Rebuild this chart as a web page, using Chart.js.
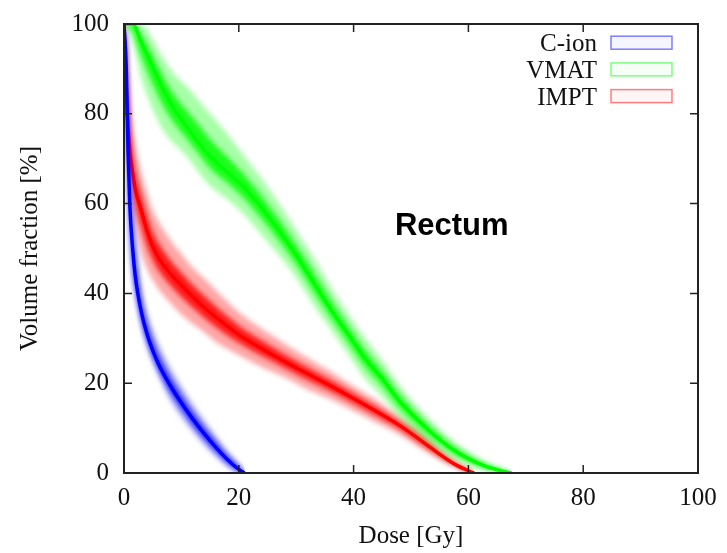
<!DOCTYPE html>
<html>
<head>
<meta charset="utf-8">
<script src="https://cdn.jsdelivr.net/npm/chart.js@4.4.0/dist/chart.umd.min.js"></script>
<style>
  body { margin: 0; background: #fff; }
</style>
</head>
<body>
<canvas id="dvh" width="727" height="553"></canvas>
<script>
var seriesNames = ['C-ion', 'VMAT', 'IMPT'];
var seriesColors = ['0,0,255', '0,255,0', '255,0,0'];
var axisTicks = [0, 20, 40, 60, 80, 100];

// C-ion (blue)
var cionDose    = [0, 0.4, 0.7, 1, 1.5, 2, 3, 4, 5, 6, 8, 10, 12, 14, 16, 18, 20, 21];
var cionMid     = [100, 90, 72, 60, 50, 43.5, 36, 31, 27.3, 24.3, 19.6, 15.6, 12, 8.7, 5.7, 3, 0.8, 0];
var cionInnerHi = [100, 92.8, 79.2, 67.2, 54.4, 47.5, 38.4, 33, 29.2, 26.1, 21.2, 17.1, 13.3, 9.9, 6.8, 3.8, 1.4, 0.2];
var cionInnerLo = [97.6, 85.2, 68, 56.8, 47.4, 41.7, 34.6, 29.8, 26.2, 23.2, 18.3, 14.4, 10.8, 7.7, 4.9, 2.4, 0.5, 0];
var cionOuterHi = [100, 97, 90, 78, 61, 53, 42, 36, 32, 28.8, 23.6, 19.3, 15.3, 11.7, 8.3, 5, 2.2, 0.5];
var cionOuterLo = [94, 78, 62, 52, 43.5, 39, 32.5, 28, 24.5, 21.6, 16.3, 12.5, 9.2, 6.2, 3.6, 1.4, 0, 0];

// VMAT (green)
var vmatDose    = [0, 1.5, 3, 5, 7, 9, 11, 13, 15, 18, 21, 24, 27, 30, 33, 36, 39, 42, 45, 48, 51, 54, 57, 60, 63, 66, 67.5];
var vmatMid     = [100, 100, 96, 90.5, 85, 80.5, 77, 73.5, 70.5, 67, 63.5, 59, 54, 48.5, 42.5, 36.5, 31, 25.5, 21, 16, 12, 8.5, 5.5, 3.2, 1.5, 0.4, 0];
var vmatInnerHi = [100, 100, 97.6, 92.9, 87.8, 83.7, 80.6, 77.5, 74.3, 70.4, 66.3, 61.6, 56.4, 50.7, 44.7, 38.5, 32.8, 27.3, 22.6, 17.4, 13.2, 9.5, 6.3, 3.8, 1.9, 0.6, 0.1];
var vmatInnerLo = [100, 98.4, 92.8, 86.7, 81.4, 77.5, 74.4, 71.1, 67.9, 64.6, 61.1, 56.6, 51.8, 46.5, 40.5, 34.7, 29.2, 23.7, 19.4, 14.6, 10.8, 7.5, 4.7, 2.6, 1.1, 0.2, 0];
var vmatOuterHi = [100, 100, 100, 96.5, 92, 88.5, 86, 83, 80, 75.5, 70.5, 65.5, 60, 54, 48, 41.5, 35.5, 30, 25, 19.5, 15, 11, 7.5, 4.8, 2.6, 1, 0.3];
var vmatOuterLo = [100, 96, 88, 81, 76, 73, 70.5, 67, 64, 61, 57.5, 53, 48.5, 43.5, 37.5, 32, 26.5, 21, 17, 12.5, 9, 6, 3.5, 1.8, 0.5, 0, 0];

// IMPT (red)
var imptDose    = [0, 0.2, 0.5, 1, 1.5, 2, 3, 4, 5, 6, 8, 10, 12, 14, 16, 18, 20, 24, 28, 32, 36, 40, 44, 48, 52, 56, 58, 60, 61];
var imptMid     = [100, 92, 82, 72, 67, 63, 58.5, 54, 50.5, 48, 44.5, 41.8, 39.2, 36.8, 34.7, 32.7, 30.8, 27.7, 24.8, 22.1, 19.4, 16.6, 13.7, 10.6, 7, 3.3, 1.7, 0.5, 0];
var imptInnerHi = [100, 95.2, 87.6, 77.6, 71.4, 67, 61.9, 57.4, 53.7, 51.2, 47.5, 44.6, 41.8, 39.4, 37.1, 34.9, 32.8, 29.5, 26.4, 23.5, 20.7, 17.7, 14.7, 11.4, 7.7, 3.7, 2, 0.7, 0.1];
var imptInnerLo = [98.4, 89.6, 79.6, 69.6, 63.8, 59.8, 54.7, 50.6, 47.5, 45.2, 41.9, 39.2, 36.8, 34.6, 32.5, 30.7, 29, 26.1, 23.4, 20.7, 18.2, 15.5, 12.7, 9.8, 6.3, 2.9, 1.5, 0.3, 0];
var imptOuterHi = [100, 100, 96, 86, 78, 73, 67, 62.5, 58.5, 56, 52, 48.8, 45.7, 43.3, 40.7, 38.2, 35.8, 32.1, 28.8, 25.6, 22.6, 19.3, 16.2, 12.6, 8.8, 4.3, 2.5, 1, 0.3];
var imptOuterLo = [96, 86, 76, 66, 59, 55, 49, 45.5, 43, 41, 38, 35.3, 33.2, 31.3, 29.2, 27.7, 26.3, 23.6, 21.3, 18.6, 16.4, 13.8, 11.2, 8.6, 5.3, 2.3, 1.1, 0.1, 0];

var series = [
  { dose: cionDose, mid: cionMid, innerHi: cionInnerHi, innerLo: cionInnerLo, outerHi: cionOuterHi, outerLo: cionOuterLo },
  { dose: vmatDose, mid: vmatMid, innerHi: vmatInnerHi, innerLo: vmatInnerLo, outerHi: vmatOuterHi, outerLo: vmatOuterLo },
  { dose: imptDose, mid: imptMid, innerHi: imptInnerHi, innerLo: imptInnerLo, outerHi: imptOuterHi, outerLo: imptOuterLo }
];

var pts = function(dose, vals) {
  return dose.map(function(d, i) { return { x: d, y: vals[i] }; });
};

var none = 'rgba(0,0,0,0)';
var datasets = [];
series.forEach(function(s, k) {
  var rgb = seriesColors[k];
  datasets.push({ label: seriesNames[k], core: true, data: pts(s.dose, s.mid), borderColor: 'rgb(' + rgb + ')', borderWidth: 3.5, fill: false });
  datasets.push({ data: pts(s.dose, s.innerHi), borderColor: none, borderWidth: 0, fill: '+1', backgroundColor: 'rgba(' + rgb + ',0.85)' });
  datasets.push({ data: pts(s.dose, s.innerLo), borderColor: none, borderWidth: 0, fill: false });
  datasets.push({ data: pts(s.dose, s.outerHi), borderColor: none, borderWidth: 0, fill: '+1', backgroundColor: 'rgba(' + rgb + ',0.35)' });
  datasets.push({ data: pts(s.dose, s.outerLo), borderColor: none, borderWidth: 0, fill: false });
});

// soft edges on the bands, crisp centre lines
var blurPlugin = {
  id: 'bandBlur',
  beforeDatasetsDraw: function(chart) { chart.ctx.filter = 'blur(2.5px)'; },
  beforeDatasetDraw: function(chart, args) {
    if (chart.data.datasets[args.index].core) chart.ctx.filter = 'none';
  },
  afterDatasetDraw: function(chart) { chart.ctx.filter = 'blur(2.5px)'; },
  afterDatasetsDraw: function(chart) { chart.ctx.filter = 'none'; }
};

// frame, inward ticks, legend and the organ label, gnuplot style
var framePlugin = {
  id: 'frame',
  afterDatasetsDraw: function(chart) {
    var ctx = chart.ctx;
    var a = chart.chartArea;
    var xs = chart.scales.x, ys = chart.scales.y;
    ctx.save();
    ctx.filter = 'none';
    ctx.strokeStyle = '#222';
    ctx.lineWidth = 1.5;
    ctx.beginPath();
    axisTicks.forEach(function(t) {
      var px = xs.getPixelForValue(t);
      ctx.moveTo(px, a.bottom); ctx.lineTo(px, a.bottom - 8);
      ctx.moveTo(px, a.top); ctx.lineTo(px, a.top + 8);
      var py = ys.getPixelForValue(t);
      ctx.moveTo(a.left, py); ctx.lineTo(a.left + 8, py);
      ctx.moveTo(a.right, py); ctx.lineTo(a.right - 8, py);
    });
    ctx.stroke();
    ctx.lineWidth = 2;
    ctx.strokeRect(a.left, a.top, a.right - a.left, a.bottom - a.top);

    // legend
    ctx.font = '25px "Liberation Serif"';
    ctx.textAlign = 'right';
    ctx.textBaseline = 'alphabetic';
    seriesNames.forEach(function(name, i) {
      var cy = a.top + 18.7 + i * 26.7;
      ctx.fillStyle = '#111';
      ctx.fillText(name, a.right - 101, cy + 8.5);
      ctx.fillStyle = 'rgba(' + seriesColors[i] + ',0.04)';
      ctx.fillRect(a.right - 87, cy - 6.5, 61, 13);
      ctx.strokeStyle = 'rgba(' + seriesColors[i] + ',0.5)';
      ctx.lineWidth = 1.5;
      ctx.strokeRect(a.right - 87, cy - 6.5, 61, 13);
    });

    ctx.font = 'bold 31px "Liberation Sans"';
    ctx.textAlign = 'left';
    ctx.fillStyle = '#000';
    ctx.fillText('Rectum', xs.getPixelForValue(47.2), ys.getPixelForValue(53));
    ctx.restore();
  }
};

var tickFont = { family: 'Liberation Serif', size: 25 };

new Chart(document.getElementById('dvh').getContext('2d'), {
  type: 'line',
  data: { datasets: datasets },
  options: {
    responsive: false,
    animation: false,
    devicePixelRatio: 1,
    layout: { padding: { top: 24, right: 29, left: 0, bottom: 0 } },
    elements: {
      point: { radius: 0, hoverRadius: 0 },
      line: { cubicInterpolationMode: 'monotone' }
    },
    plugins: {
      legend: { display: false },
      tooltip: { enabled: false }
    },
    scales: {
      x: {
        type: 'linear',
        min: 0,
        max: 100,
        afterFit: function(s) { s.height = 80; s.paddingLeft = 0; s.paddingRight = 0; },
        afterBuildTicks: function(s) { s.ticks = axisTicks.map(function(v) { return { value: v }; }); },
        grid: { display: false, drawTicks: false },
        border: { display: false },
        ticks: { color: '#111', font: tickFont, padding: 10, maxRotation: 0 },
        title: { display: true, text: 'Dose [Gy]', color: '#111', font: tickFont, padding: { top: 0, bottom: 2 } }
      },
      y: {
        min: 0,
        max: 100,
        afterFit: function(s) { s.width = 124; s.paddingTop = 0; s.paddingBottom = 0; },
        afterBuildTicks: function(s) { s.ticks = axisTicks.map(function(v) { return { value: v }; }); },
        grid: { display: false, drawTicks: false },
        border: { display: false },
        ticks: { color: '#111', font: tickFont, padding: 15 },
        title: { display: true, text: 'Volume fraction [%]', color: '#111', font: tickFont, padding: { top: 15, bottom: 0 } }
      }
    }
  },
  plugins: [blurPlugin, framePlugin]
});
</script>
</body>
</html>
